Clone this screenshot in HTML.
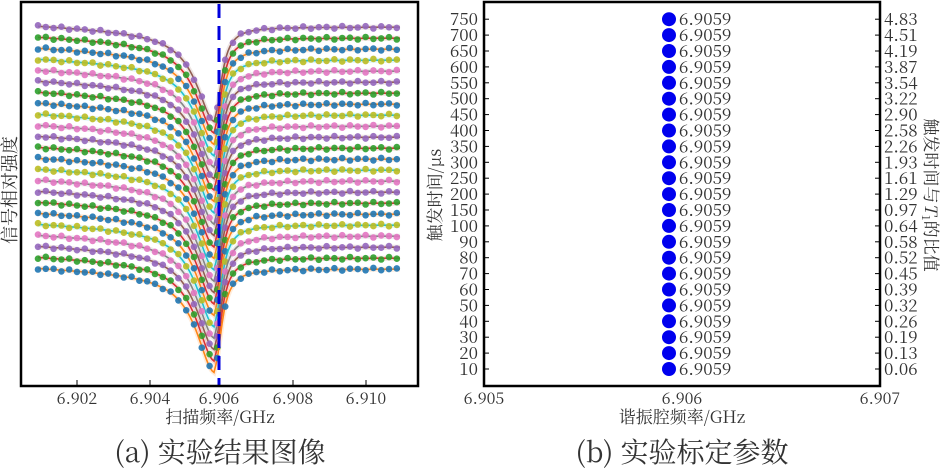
<!DOCTYPE html>
<html><head><meta charset="utf-8"><style>
body{margin:0;background:#fff;width:946px;height:471px;overflow:hidden}
svg{display:block}
svg text{font-family:"Noto Serif CJK SC","Liberation Serif",serif !important}
</style></head><body>
<svg id="s" width="946" height="471" xmlns="http://www.w3.org/2000/svg" fill="#222">
<g id="curves"></g>
<line x1="219" y1="4" x2="219" y2="385" stroke="#0000dd" stroke-width="3" stroke-dasharray="14,8"/>
<rect x="21" y="2" width="397" height="384" fill="none" stroke="#000" stroke-width="2.5"/>
<g font-size="16" text-anchor="middle" fill="#333">
<text x="77" y="404">6.902</text><text x="150" y="404">6.904</text><text x="219" y="404">6.906</text><text x="293" y="404">6.908</text><text x="366" y="404">6.910</text>
<text x="220" y="423" font-size="17">扫描频率/GHz</text>
<text x="220" y="462" font-size="28">(a) 实验结果图像</text>
<text x="682" y="462" font-size="28">(b) 实验标定参数</text>
<text x="682" y="423" font-size="17">谐振腔频率/GHz</text>
<text x="484" y="404">6.905</text><text x="682" y="404">6.906</text><text x="880" y="404">6.907</text>
</g>
<g stroke="#000" stroke-width="1"><line x1="77" y1="386" x2="77" y2="380"/><line x1="150" y1="386" x2="150" y2="380"/><line x1="293" y1="386" x2="293" y2="380"/><line x1="366" y1="386" x2="366" y2="380"/></g>
<text transform="translate(16,190) rotate(-90)" font-size="18" text-anchor="middle" fill="#333">信号相对强度</text>
<text transform="translate(441,195) rotate(-90)" font-size="17" text-anchor="middle" fill="#333">触发时间/μs</text>
<text transform="translate(925,195) rotate(90)" font-size="17" text-anchor="middle" fill="#333">触发时间与<tspan font-style="italic">T</tspan><tspan font-size="11" dy="3">1</tspan><tspan dy="-3">的比值</tspan></text>
<rect x="484" y="2" width="396" height="384" fill="none" stroke="#000" stroke-width="2.5"/>
<g id="right" font-size="17" fill="#333"></g>
</svg>
<script>
var ns="http://www.w3.org/2000/svg",g=document.getElementById('curves'),r=document.getElementById('right');
function el(p,t,a,txt){var e=document.createElementNS(ns,t);for(var k in a)e.setAttribute(k,a[k]);if(txt)e.textContent=txt;p.appendChild(e);return e;}
var dc=['#9467bd','#2ca02c','#1f77b4','#bcbd22','#e377c2'],lc=['#8c564b','#d62728','#ff7f0e','#17becf','#7f7f7f'];
function f(x,i){var b=25+i*11,rb=b+2,d=88+i*0.4,c=215;var dx=x-c;var w=dx<0?22:8;var base=dx<0?b+(x-38)*0.05:rb;return base+d*w*w/(dx*dx+w*w);}
for(var i=0;i<23;i++){var pts=[];for(var x=38;x<=400;x+=2)pts.push(x+','+f(x,i).toFixed(1));
el(g,'polyline',{points:pts.join(' '),fill:'none',stroke:lc[i%5],'stroke-width':5,opacity:0.15});
el(g,'polyline',{points:pts.join(' '),fill:'none',stroke:lc[i%5],'stroke-width':1.6,opacity:0.95});
for(var x=38;x<=400;x+=7.8){var y=f(x,i)+Math.sin(x*1.3+i)*1.3;el(g,'circle',{cx:x.toFixed(1),cy:y.toFixed(1),r:3.3,fill:dc[i%5],opacity:0.9});}}
var L=[10,20,30,40,50,60,70,80,90,100,150,200,250,300,350,400,450,500,550,600,650,700,750];
var R=['0.06','0.13','0.19','0.26','0.32','0.39','0.45','0.52','0.58','0.64','0.97','1.29','1.61','1.93','2.26','2.58','2.90','3.22','3.54','3.87','4.19','4.51','4.83'];
for(var k=0;k<23;k++){var y=369-k*15.9;
el(r,'circle',{cx:669,cy:y,r:7,fill:'#0000ee'});
el(r,'text',{x:679,y:y+6},'6.9059');
el(r,'text',{x:478,y:y+6,'text-anchor':'end'},String(L[k]));
el(r,'text',{x:884,y:y+6},R[k]);
el(r,'line',{x1:484,y1:y,x2:489,y2:y,stroke:'#000'});
el(r,'line',{x1:875,y1:y,x2:880,y2:y,stroke:'#000'});}
</script>
</body></html>
